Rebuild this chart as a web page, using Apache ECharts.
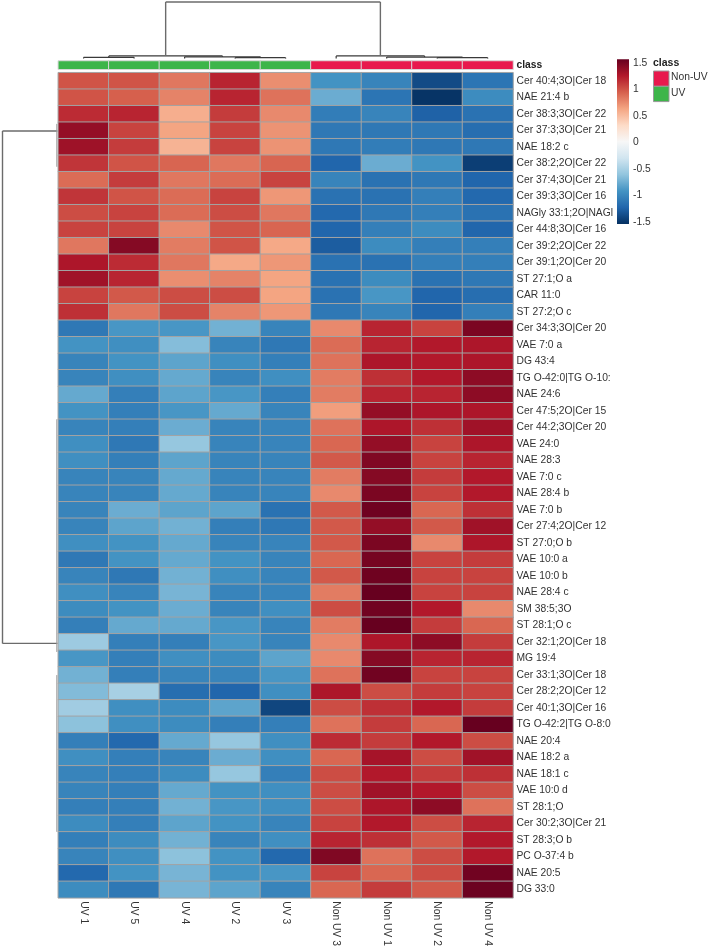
<!DOCTYPE html>
<html><head><meta charset="utf-8">
<script src="https://cdn.jsdelivr.net/npm/echarts@6/dist/echarts.min.js"></script>
<style>html,body{margin:0;padding:0;background:#fff}#c{width:709px;height:949px}</style>
</head><body><div id="c"></div>
<script>
const colNames = ['UV 1','UV 5','UV 4','UV 2','UV 3','Non UV 3','Non UV 1','Non UV 2','Non UV 4'];
const colClass = ['UV','UV','UV','UV','UV','Non-UV','Non-UV','Non-UV','Non-UV'];
const classNames = ['Non-UV','UV'];
const classColors = ['#e8194d','#3db54a'];
const rowNames = [
'Cer 40:4;3O|Cer 18','NAE 21:4 b','Cer 38:3;3O|Cer 22','Cer 37:3;3O|Cer 21','NAE 18:2 c',
'Cer 38:2;2O|Cer 22','Cer 37:4;3O|Cer 21','Cer 39:3;3O|Cer 16','NAGly 33:1;2O|NAGl','Cer 44:8;3O|Cer 16',
'Cer 39:2;2O|Cer 22','Cer 39:1;2O|Cer 20','ST 27:1;O a','CAR 11:0','ST 27:2;O c',
'Cer 34:3;3O|Cer 20','VAE 7:0 a','DG 43:4','TG O-42:0|TG O-10:','NAE 24:6',
'Cer 47:5;2O|Cer 15','Cer 44:2;3O|Cer 20','VAE 24:0','NAE 28:3','VAE 7:0 c',
'NAE 28:4 b','VAE 7:0 b','Cer 27:4;2O|Cer 12','ST 27:0;O b','VAE 10:0 a',
'VAE 10:0 b','NAE 28:4 c','SM 38:5;3O','ST 28:1;O c','Cer 32:1;2O|Cer 18',
'MG 19:4','Cer 33:1;3O|Cer 18','Cer 28:2;2O|Cer 12','Cer 40:1;3O|Cer 16','TG O-42:2|TG O-8:0',
'NAE 20:4','NAE 18:2 a','NAE 18:1 c','VAE 10:0 d','ST 28:1;O',
'Cer 30:2;3O|Cer 21','ST 28:3;O b','PC O-37:4 b','NAE 20:5','DG 33:0'];
// values per row, columns in display order
const values = [
[0.95,0.95,0.80,1.15,0.70,-0.90,-1.00,-1.35,-1.10],
[0.95,0.90,0.75,1.15,0.82,-0.75,-1.10,-1.48,-0.95],
[1.12,1.15,0.55,1.05,0.72,-1.05,-1.00,-1.22,-1.12],
[1.32,1.02,0.60,1.02,0.68,-1.08,-1.08,-1.08,-1.15],
[1.28,1.05,0.52,1.02,0.68,-1.08,-1.05,-1.08,-1.08],
[1.08,0.95,0.88,0.80,0.88,-1.20,-0.75,-0.90,-1.42],
[0.85,1.05,0.80,0.85,1.02,-1.00,-1.12,-1.08,-1.20],
[1.08,0.95,0.85,1.02,0.66,-1.12,-1.12,-1.03,-1.18],
[0.98,1.02,0.85,0.98,0.80,-1.18,-1.08,-1.03,-1.12],
[1.02,1.02,0.72,0.95,0.88,-1.20,-1.03,-0.95,-1.20],
[0.80,1.38,0.78,0.95,0.58,-1.25,-0.95,-1.03,-1.03],
[1.22,1.12,0.80,0.58,0.66,-1.12,-1.12,-1.03,-1.03],
[1.27,1.15,0.70,0.75,0.60,-1.12,-0.95,-1.12,-1.08],
[1.02,0.93,0.98,0.98,0.60,-1.12,-0.88,-1.20,-1.15],
[1.10,0.80,0.98,0.75,0.66,-1.08,-1.00,-1.20,-1.03],
[-1.08,-0.88,-0.88,-0.72,-1.00,0.72,1.15,1.02,1.42],
[-0.90,-0.93,-0.65,-1.00,-1.08,0.85,1.15,1.20,1.22],
[-1.00,-0.90,-0.80,-0.93,-1.03,0.82,1.22,1.20,1.22],
[-1.00,-0.93,-0.77,-1.00,-0.93,0.78,1.10,1.20,1.35],
[-0.77,-1.03,-0.80,-0.88,-1.03,0.78,1.15,1.15,1.35],
[-0.90,-1.03,-0.88,-0.77,-1.00,0.63,1.32,1.22,1.22],
[-1.00,-1.03,-0.75,-1.00,-1.00,0.82,1.22,1.10,1.27],
[-0.93,-1.08,-0.58,-1.00,-1.00,0.87,1.32,1.02,1.22],
[-0.93,-1.03,-0.80,-1.00,-1.00,0.93,1.40,1.02,1.15],
[-1.00,-1.00,-0.77,-1.00,-1.00,0.78,1.38,1.05,1.20],
[-1.00,-1.00,-0.77,-1.00,-1.00,0.72,1.42,1.02,1.20],
[-1.00,-0.75,-0.80,-0.80,-1.12,0.93,1.47,0.87,1.10],
[-1.00,-0.80,-0.72,-1.03,-1.08,0.93,1.32,0.93,1.27],
[-0.93,-0.90,-0.77,-1.00,-1.00,0.93,1.42,0.72,1.22],
[-1.08,-0.90,-0.77,-0.90,-1.00,0.87,1.44,1.02,1.05],
[-1.00,-1.08,-0.72,-0.93,-1.00,0.93,1.47,1.02,1.02],
[-0.93,-1.00,-0.70,-1.00,-1.00,0.78,1.50,1.02,1.02],
[-0.95,-0.90,-0.75,-1.00,-0.93,0.98,1.46,1.20,0.72],
[-1.03,-0.77,-0.77,-0.88,-1.00,0.78,1.50,1.05,0.87],
[-0.55,-1.03,-1.03,-0.88,-1.00,0.72,1.22,1.35,1.05],
[-0.88,-1.03,-0.93,-0.95,-0.80,0.72,1.38,1.15,1.15],
[-0.72,-1.03,-1.00,-1.00,-0.88,0.82,1.46,1.02,1.02],
[-0.66,-0.50,-1.15,-1.20,-0.93,1.22,0.98,1.05,1.02],
[-0.53,-0.93,-0.95,-0.80,-1.38,0.98,1.10,1.20,1.05],
[-0.62,-0.93,-0.95,-1.03,-1.03,0.82,1.05,0.87,1.50],
[-1.03,-1.18,-0.77,-0.58,-0.93,1.12,1.05,1.20,0.98],
[-0.93,-1.03,-1.00,-0.75,-0.93,0.87,1.25,0.98,1.27],
[-1.00,-1.03,-0.95,-0.58,-1.03,0.98,1.20,1.05,1.10],
[-1.00,-1.03,-0.77,-0.90,-0.93,0.98,1.27,1.20,0.98],
[-1.03,-1.03,-0.72,-0.88,-0.93,0.98,1.22,1.35,0.82],
[-0.95,-1.03,-0.80,-0.90,-1.00,1.02,1.20,0.98,1.15],
[-1.03,-0.95,-0.72,-1.00,-0.93,1.15,1.10,0.93,1.20],
[-1.00,-0.93,-0.62,-0.90,-1.18,1.40,0.82,0.98,1.20],
[-1.18,-0.90,-0.70,-0.90,-0.88,1.02,0.87,0.98,1.46],
[-0.95,-1.08,-0.70,-0.80,-1.00,0.87,1.05,0.93,1.48]];
const legendTicks = [-1.5,-1,-0.5,0,0.5,1,1.5];
const palette = ['#053061','#2166ac','#4393c3','#92c5de','#d1e5f0','#f7f7f7','#fddbc7','#f4a582','#d6604d','#b2182b','#67001f'];
// column dendrogram: [left, right, height] (height relative to root = 1)
const colTree = [[[0,1,0.020],[2,[3,4,0.015],0.030],0.045],[5,[6,[7,8,0.015],0.025],0.045],1.0];
// row dendrogram: root cluster anchors (row index units) and faint sub-branch spans
const rowRootAnchors = [3.03, 34.08];
const rowSubSpans = [[2.6,5.2],[20.5,34.6],[36.0,45.5]];

const heatData = [];
values.forEach((row, r) => row.forEach((v, c) => heatData.push([c, r, v])));
const classData = colClass.map((k, c) => ({value:[c, 0, classNames.indexOf(k)], itemStyle:{color: classColors[classNames.indexOf(k)]}}));

const FONT = 'Liberation Sans';
const G = {left:58.3, top:72.7, width:454.7, height:826.6};
const chart = echarts.init(document.getElementById('c'), null, {renderer:'canvas'});
const txt = {fontFamily:FONT, fontSize:10.3, color:'#333'};

const barTop = 59.3, barH = 164.7;
const gradStops = palette.slice().reverse().map((c,i)=>({offset:i/(palette.length-1), color:c}));

chart.setOption({
  backgroundColor:'#fff',
  animation:false,
  grid:[
    {left:G.left, top:G.top, width:G.width, height:G.height},
    {left:G.left, top:61, width:G.width, height:8.3},
    {left:617, top:62.7, width:12, height:159.3}
  ],
  xAxis:[
    {type:'category', data:colNames, gridIndex:0, position:'bottom',
     axisLine:{show:false}, axisTick:{show:false}, splitLine:{show:false},
     axisLabel:Object.assign({rotate:-90, margin:3.5, interval:0}, txt)},
    {type:'category', data:colNames, gridIndex:1, show:false},
    {type:'value', gridIndex:2, show:false, min:0, max:1}
  ],
  yAxis:[
    {type:'category', data:rowNames, gridIndex:0, inverse:true, position:'right',
     axisLine:{show:false}, axisTick:{show:false}, splitLine:{show:false},
     axisLabel:Object.assign({margin:3.5, interval:0}, txt)},
    {type:'category', data:['class'], gridIndex:1, position:'right',
     axisLine:{show:false}, axisTick:{show:false},
     axisLabel:Object.assign({margin:3.5}, txt, {fontWeight:'bold', color:'#222'})},
    {type:'value', gridIndex:2, position:'right', min:legendTicks[0], max:legendTicks[legendTicks.length-1], interval:0.5,
     axisLine:{show:false}, axisTick:{show:false}, splitLine:{show:false},
     axisLabel:Object.assign({margin:4}, txt)}
  ],
  visualMap:{type:'continuous', min:-1.5, max:1.5, show:false, seriesIndex:0, inRange:{color:palette}},
  series:[
    {type:'heatmap', xAxisIndex:0, yAxisIndex:0, data:heatData,
     itemStyle:{borderColor:'#a3a3a3', borderWidth:1}, emphasis:{disabled:true}},
    {type:'heatmap', xAxisIndex:1, yAxisIndex:1, data:classData,
     itemStyle:{borderColor:'#d8d8d8', borderWidth:1}, emphasis:{disabled:true}},
    {type:'scatter', xAxisIndex:2, yAxisIndex:2, data:[], silent:true}
  ]
});

// dendrograms drawn with positions from the axes
const graphics = [];
graphics.push({type:'rect', shape:{x:617, y:barTop, width:12, height:barH},
  style:{fill:new echarts.graphic.LinearGradient(0,0,0,1,gradStops)}});
// class legend
graphics.push({type:'text', style:{x:653, y:58, text:'class', font:'bold 10.5px '+FONT, fill:'#222'}});
classNames.forEach((n,i)=>{
  graphics.push({type:'rect', shape:{x:653.5, y:71+i*15.3, width:15.5, height:15.3},
    style:{fill:classColors[i], stroke:'#999', lineWidth:1}});
  graphics.push({type:'text', style:{x:671, y:72.5+i*15.3, text:n, font:'10.3px '+FONT, fill:'#333'}});
});

function seg(x1,y1,x2,y2,color,w){
  graphics.push({type:'line', shape:{x1:x1,y1:y1,x2:x2,y2:y2}, style:{stroke:color, lineWidth:w}});
}
const colY = h => 58.5 - h*56.5;
function drawCol(node){
  if (typeof node === 'number') {
    return {x: chart.convertToPixel({xAxisIndex:0}, colNames[node]), h:0};
  }
  const a = drawCol(node[0]), b = drawCol(node[1]), h = node[2];
  const col = h >= 1 ? '#6b6b6b' : '#3a3a3a';
  const w = h >= 1 ? 1.4 : 1.2;
  seg(a.x, colY(a.h), a.x, colY(h), col, w);
  seg(b.x, colY(b.h), b.x, colY(h), col, w);
  seg(a.x, colY(h), b.x, colY(h), col, w);
  return {x:(a.x+b.x)/2, h:h};
}
drawCol(colTree);

function rowPix(f){
  const i0 = Math.floor(f), i1 = Math.min(i0+1, rowNames.length-1);
  const p0 = chart.convertToPixel({yAxisIndex:0}, rowNames[i0]);
  const p1 = chart.convertToPixel({yAxisIndex:0}, rowNames[i1]);
  return p0 + (p1-p0)*(f-i0);
}
const rootX = 2.5, leafX = 57.5;
const yA = rowPix(rowRootAnchors[0]), yB = rowPix(rowRootAnchors[1]);
seg(rootX, yA, rootX, yB, '#6b6b6b', 1.4);
seg(rootX, yA, leafX, yA, '#6b6b6b', 1.4);
seg(rootX, yB, leafX, yB, '#6b6b6b', 1.4);
rowSubSpans.forEach(s => seg(56.8, rowPix(s[0]), 56.8, rowPix(s[1]), '#9a9a9a', 1));

chart.setOption({graphic: graphics});
</script></body></html>
